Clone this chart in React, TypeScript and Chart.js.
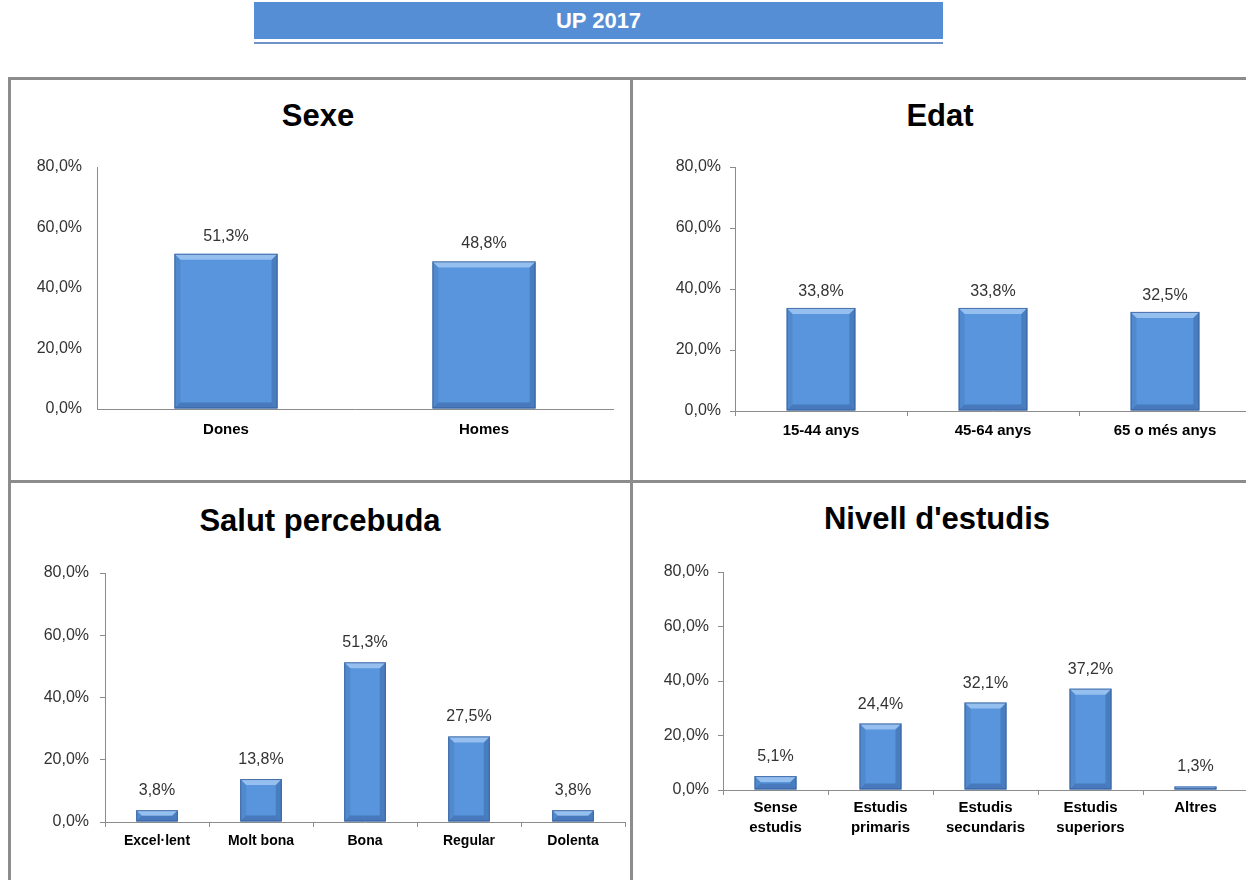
import React, { useEffect, useRef } from "react";
import { Chart, registerables } from "chart.js";

Chart.register(...registerables);

const sexeLabels = ["Dones", "Homes"];
const sexeValues = [51.3, 48.8];

const edatLabels = ["15-44 anys", "45-64 anys", "65 o més anys"];
const edatValues = [33.8, 33.8, 32.5];

const salutLabels = ["Excel·lent", "Molt bona", "Bona", "Regular", "Dolenta"];
const salutValues = [3.8, 13.8, 51.3, 27.5, 3.8];

const estudisLabels = [["Sense", "estudis"], ["Estudis", "primaris"], ["Estudis", "secundaris"], ["Estudis", "superiors"], ["Altres"]];
const estudisValues = [5.1, 24.4, 32.1, 37.2, 1.3];

const yTicks = [0, 20, 40, 60, 80];

const FONT = "'Liberation Sans', Arial, sans-serif";
const BAR = "#5895DC";

const fmt = (v: number) => v.toFixed(1).replace(".", ",") + "%";

const bevelPlugin = {
  id: "bevel",
  afterDatasetsDraw(chart: any) {
    const ctx = chart.ctx;
    chart.data.datasets.forEach((_: any, i: number) => {
      const meta = chart.getDatasetMeta(i);
      meta.data.forEach((el: any) => {
        const { x, y, base, width } = el.getProps(["x", "y", "base", "width"], true);
        const l = x - width / 2, r = x + width / 2;
        const t = Math.min(y, base), b = Math.max(y, base);
        const bv = Math.max(0.5, Math.min(6, (b - t) / 2, width / 5));
        const poly = (pts: number[][], fill: string) => {
          ctx.beginPath();
          ctx.moveTo(pts[0][0], pts[0][1]);
          for (let k = 1; k < pts.length; k++) ctx.lineTo(pts[k][0], pts[k][1]);
          ctx.closePath();
          ctx.fillStyle = fill;
          ctx.fill();
        };
        ctx.save();
        poly([[l, t], [r, t], [r - bv, t + bv], [l + bv, t + bv]], "rgba(200,225,255,0.55)");
        poly([[l, t], [l + bv, t + bv], [l + bv, b - bv], [l, b]], "rgba(20,40,90,0.10)");
        poly([[r, t], [r - bv, t + bv], [r - bv, b - bv], [r, b]], "rgba(20,40,90,0.22)");
        poly([[l, b], [l + bv, b - bv], [r - bv, b - bv], [r, b]], "rgba(20,40,90,0.25)");
        ctx.strokeStyle = "rgba(50,90,150,0.8)";
        ctx.lineWidth = 1;
        ctx.strokeRect(l + 0.5, t + 0.5, width - 1, b - t - 1);
        ctx.restore();
      });
    });
  },
};

const labelPlugin = {
  id: "valueLabels",
  afterDraw(chart: any) {
    const ctx = chart.ctx;
    const off = chart.options.plugins.valueLabels?.offset ?? 12;
    ctx.save();
    ctx.font = `16px ${FONT}`;
    ctx.fillStyle = "#333333";
    ctx.textAlign = "center";
    ctx.textBaseline = "alphabetic";
    chart.data.datasets.forEach((ds: any, i: number) => {
      const meta = chart.getDatasetMeta(i);
      meta.data.forEach((el: any, j: number) => {
        ctx.fillText(fmt(ds.data[j]), el.x, el.y - off);
      });
    });
    ctx.restore();
  },
};

type Panel = {
  title: string;
  titleX: number;
  titleY: number;
  labels: any[];
  values: number[];
  left: number;
  top: number;
  width: number;
  height: number;
  yWidth: number;
  padTop: number;
  xHeight: number;
  padRight: number;
  ticks: boolean;
  yPad: number;
  xPad: number;
  xFont: number;
  xLine: number;
  labelOffset: number;
};

const panels: Panel[] = [
  { title: "Sexe", titleX: 318, titleY: 116, labels: sexeLabels, values: sexeValues, left: 11, top: 80, width: 619, height: 398, yWidth: 86, padTop: 87, xHeight: 69, padRight: 17, ticks: false, yPad: 15, xPad: 12, xFont: 15, xLine: 1.2, labelOffset: 13 },
  { title: "Edat", titleX: 940, titleY: 116, labels: edatLabels, values: edatValues, left: 634, top: 80, width: 627, height: 398, yWidth: 101, padTop: 87, xHeight: 67, padRight: 10, ticks: true, yPad: 9, xPad: 6, xFont: 15, xLine: 1.2, labelOffset: 12 },
  { title: "Salut percebuda", titleX: 320, titleY: 521, labels: salutLabels, values: salutValues, left: 11, top: 484, width: 619, height: 396, yWidth: 94, padTop: 89, xHeight: 58, padRight: 5, ticks: true, yPad: 11, xPad: 6, xFont: 14, xLine: 1.2, labelOffset: 15 },
  { title: "Nivell d'estudis", titleX: 937, titleY: 519, labels: estudisLabels, values: estudisValues, left: 634, top: 484, width: 627, height: 396, yWidth: 89, padTop: 88, xHeight: 90, padRight: 13, ticks: true, yPad: 9, xPad: 3, xFont: 15, xLine: 1.333, labelOffset: 15 },
];

function BarPanel({ p }: { p: Panel }) {
  const ref = useRef<HTMLCanvasElement>(null);
  useEffect(() => {
    if (!ref.current) return;
    const chart = new Chart(ref.current, {
      type: "bar",
      data: {
        labels: p.labels,
        datasets: [
          {
            data: p.values,
            backgroundColor: BAR,
            borderWidth: 0,
            barPercentage: 0.4,
            categoryPercentage: 1,
          },
        ],
      },
      options: {
        responsive: false,
        animation: false,
        devicePixelRatio: 1,
        layout: { padding: { top: p.padTop, right: p.padRight, left: 0, bottom: 0 } },
        plugins: {
          legend: { display: false },
          tooltip: { enabled: false },
          title: { display: false },
          valueLabels: { offset: p.labelOffset },
        } as any,
        scales: {
          x: {
            grid: { display: true, drawOnChartArea: false, drawTicks: p.ticks, tickLength: 5, color: "#8c8c8c", tickColor: "#8c8c8c" },
            border: { display: true, color: "#8c8c8c", width: 1 },
            ticks: {
              color: "#000000",
              font: { family: FONT, size: p.xFont, weight: "bold", lineHeight: p.xLine },
              padding: p.xPad,
              maxRotation: 0,
              minRotation: 0,
              autoSkip: false,
            },
            afterFit: (s: any) => { s.height = p.xHeight; },
          },
          y: {
            min: 0,
            max: 80,
            grid: { display: true, drawOnChartArea: false, drawTicks: p.ticks, tickLength: 5, color: "#8c8c8c", tickColor: "#8c8c8c" },
            border: { display: true, color: "#8c8c8c", width: 1 },
            afterBuildTicks: (s: any) => { s.ticks = yTicks.map((v) => ({ value: v })); },
            ticks: {
              color: "#333333",
              font: { family: FONT, size: 16 },
              padding: p.yPad,
              callback: (v: any) => fmt(Number(v)),
            },
            afterFit: (s: any) => { s.width = p.yWidth; },
          },
        },
      },
      plugins: [bevelPlugin, labelPlugin],
    } as any);
    return () => chart.destroy();
  }, [p]);
  return (
    <canvas
      ref={ref}
      width={p.width}
      height={p.height}
      style={{ position: "absolute", left: p.left, top: p.top, width: p.width, height: p.height }}
    />
  );
}

const borderBoxes = [
  { left: 8, top: 77, width: 625, height: 406 },
  { left: 630, top: 77, width: 630, height: 406 },
  { left: 8, top: 480, width: 625, height: 420 },
  { left: 630, top: 480, width: 630, height: 420 },
];

export default function App() {
  return (
    <div style={{ position: "fixed", left: 0, top: 0, width: 1246, height: 880, overflow: "hidden", background: "#ffffff", fontFamily: FONT }}>
      <div
        style={{
          position: "absolute", left: 254, top: 2, width: 689, height: 37, background: "#558ED5",
          color: "#ffffff", fontWeight: "bold", fontSize: 22, lineHeight: "37px", textAlign: "center",
        }}
      >
        UP 2017
      </div>
      <div style={{ position: "absolute", left: 254, top: 42, width: 689, height: 2, background: "#6f93c8" }} />
      {borderBoxes.map((b, i) => (
        <div key={i} style={{ position: "absolute", ...b, boxSizing: "border-box", border: "3px solid #8c8c8c" }} />
      ))}
      {panels.map((p, i) => (
        <div
          key={"t" + i}
          style={{
            position: "absolute", left: p.titleX - 300, top: p.titleY - 18, width: 600, height: 36,
            lineHeight: "36px", textAlign: "center", fontWeight: "bold", fontSize: 31, color: "#000",
          }}
        >
          {p.title}
        </div>
      ))}
      {panels.map((p, i) => (
        <BarPanel key={i} p={p} />
      ))}
    </div>
  );
}
